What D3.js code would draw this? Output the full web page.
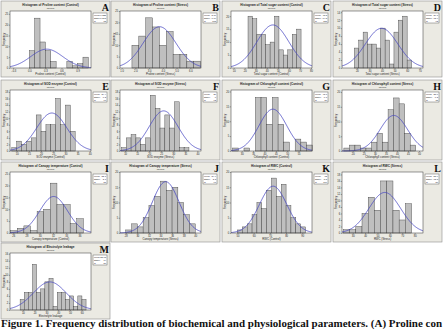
<!DOCTYPE html>
<html>
<head>
<meta charset="utf-8">
<script src="https://cdn.jsdelivr.net/npm/d3@7"></script>
<style>
  body { margin: 0; background: #fff; }
  svg { display: block; }
</style>
</head>
<body>
<svg id="fig" width="444" height="331"></svg>
<script>
// panel letters, titles and axis labels
var letters = ["A", "B", "C", "D", "E", "F", "G", "H", "I", "J", "K", "L", "M"];
var titles = [
  "Histogram of Proline content (Control)", "Histogram of Proline content (Stress)",
  "Histogram of Total sugar content (Control)", "Histogram of Total sugar content (Stress)",
  "Histogram of SOD enzyme (Control)", "Histogram of SOD enzyme (Stress)",
  "Histogram of Chlorophyll content (Control)", "Histogram of Chlorophyll content (Stress)",
  "Histogram of Canopy temperature (Control)", "Histogram of Canopy temperature (Stress)",
  "Histogram of RWC (Control)", "Histogram of RWC (Stress)",
  "Histogram of Electrolyte leakage"
];
var xLabels = [
  "Proline content (Control)", "Proline content (Stress)",
  "Total sugar content (Control)", "Total sugar content (Stress)",
  "SOD enzyme (Control)", "SOD enzyme (Stress)",
  "Chlorophyll content (Control)", "Chlorophyll content (Stress)",
  "Canopy temperature (Control)", "Canopy temperature (Stress)",
  "RWC (Control)", "RWC (Stress)",
  "Electrolyte leakage"
];

// histogram bins
var binStart = [0.0, 1.75, 23, 18, 8, 8.5, 26, 16, 25.6, 28, 50, 22.5, 7.7];
var binWidth = [0.1, 0.5, 4, 3.5, 2, 2, 2.5, 2.5, 1, 1, 3, 5, 3.5];
var counts = [
  [8, 23, 12, 8, 3, 0, 0, 3, 1, 2, 5],
  [10, 14, 22, 18, 10, 16, 6, 6, 3, 3],
  [20, 19, 13, 13, 9, 10, 20, 7, 5, 7, 13, 15],
  [5, 7, 9, 6, 6, 5, 10, 7, 1, 9, 12, 13, 2],
  [1, 3, 2, 3, 4, 11, 6, 8, 8, 16, 8, 14, 6],
  [1, 4, 5, 4, 2, 4, 17, 13, 7, 11, 7, 15, 1, 1],
  [1, 0, 1, 0, 18, 18, 9, 18, 9, 3, 0, 4, 3, 2],
  [1, 2, 2, 1, 1, 3, 6, 3, 14, 18, 16, 6, 2],
  [1, 2, 3, 1, 9, 10, 21, 12, 12, 4, 6],
  [1, 3, 2, 5, 9, 12, 17, 14, 15, 10, 6, 3],
  [1, 2, 3, 6, 10, 8, 14, 18, 12, 16, 9, 5, 3, 2],
  [1, 1, 2, 6, 11, 7, 16, 16, 7, 4, 9],
  [3, 5, 5, 13, 5, 6, 8, 9, 1, 5, 5, 3, 4, 1, 4, 3]
];

// fitted normal: mean and standard deviation
var means = [0.325, 3.76, 45.5, 39.7, 24.4, 26.0, 43.7, 38.6, 32.1, 34.9, 72.0, 55.9, 32.95];
var sds = [0.298, 1.19, 14.5, 12.9, 6.2, 6.0, 6.1, 6.2, 2.1, 2.3, 8.5, 12.8, 14.0];

// axes
var xDomains = [
  [-0.36, 1.15], [0.88, 6.78], [7.6, 80.9], [8.2, 72.6],
  [7.25, 40.5], [7.9, 41.5], [25.3, 60.9], [15.15, 51.8],
  [25.5, 37.75], [27, 41], [46, 96], [21.35, 86.75],
  [-0.9, 67.9]
];
var xTicks = [
  [-0.3, 0.0, 0.3, 0.6, 0.9], [1, 2, 3, 4, 5, 6], [10, 20, 30, 40, 50, 60, 70, 80], [20, 30, 40, 50, 60, 70],
  [10, 15, 20, 25, 30, 35, 40], [10, 15, 20, 25, 30, 35, 40], [30, 35, 40, 45, 50, 55], [20, 25, 30, 35, 40, 45, 50],
  [26, 28, 30, 32, 34, 36], [28, 30, 32, 34, 36, 38, 40], [50, 60, 70, 80, 90], [30, 40, 50, 60, 70, 80],
  [10, 20, 30, 40, 50, 60]
];
var yMax = [26.3, 25, 22, 14.3, 18.6, 18.6, 20.5, 20.7, 25.7, 20, 20, 18.75, 16.2];
var yTicks = [
  [0, 5, 10, 15, 20, 25], [0, 5, 10, 15, 20, 25], [0, 5, 10, 15, 20], [0, 2, 4, 6, 8, 10, 12, 14],
  [0, 2, 4, 6, 8, 10, 12, 14, 16, 18], [0, 2, 4, 6, 8, 10, 12, 14, 16, 18], [0, 5, 10, 15, 20], [0, 5, 10, 15, 20],
  [0, 5, 10, 15, 20, 25], [0, 5, 10, 15, 20], [0, 5, 10, 15, 20], [0, 2, 4, 6, 8, 10, 12, 14, 16, 18],
  [0, 2, 4, 6, 8, 10, 12, 14, 16]
];

var caption = "Figure 1. Frequency distribution of biochemical and physiological parameters. (A) Proline con";

var svg = d3.select("#fig");
var colX = [1, 111, 222, 333];
var rowY = [1, 80, 162, 243];
var rowH = [76, 80, 80, 76];
var sans = "Arial, 'Liberation Sans', sans-serif";

function pdf(v, m, s) {
  return Math.exp(-0.5 * Math.pow((v - m) / s, 2)) / (s * Math.sqrt(2 * Math.PI));
}

letters.forEach(function (L, i) {
  var x0 = colX[i % 4], y0 = rowY[Math.floor(i / 4)], h = rowH[Math.floor(i / 4)];
  var g = svg.append("g").attr("transform", "translate(" + x0 + "," + y0 + ")");

  var left = 9, right = 90, top = 10, bottom = h - 9;

  // panel background
  g.append("rect")
    .attr("width", 109).attr("height", h)
    .attr("fill", "#ebeae3")
    .attr("stroke", "#8e8e8e").attr("stroke-width", 0.6);

  var x = d3.scaleLinear().domain(xDomains[i]).range([left, right]);
  var y = d3.scaleLinear().domain([0, yMax[i]]).range([bottom, top]);

  g.append("rect")
    .attr("x", left).attr("y", top)
    .attr("width", right - left).attr("height", bottom - top)
    .attr("fill", "#fff");

  // bars
  var bw = x(binStart[i] + binWidth[i]) - x(binStart[i]);
  g.selectAll(".bar")
    .data(counts[i])
    .enter()
    .append("rect")
    .attr("x", function (d, j) { return x(binStart[i] + j * binWidth[i]); })
    .attr("y", function (d) { return y(d); })
    .attr("width", bw)
    .attr("height", function (d) { return y(0) - y(d); })
    .attr("fill", "#bfbfbf")
    .attr("stroke", "#3a3a3a")
    .attr("stroke-width", 0.4);

  // normal curve
  var n = d3.sum(counts[i]);
  var dom = xDomains[i];
  var pts = d3.range(0, 161).map(function (k) {
    var v = dom[0] + k * (dom[1] - dom[0]) / 160;
    return [v, n * binWidth[i] * pdf(v, means[i], sds[i])];
  });
  g.append("path")
    .datum(pts)
    .attr("fill", "none")
    .attr("stroke", "#4747c2")
    .attr("stroke-width", 0.8)
    .attr("d", d3.line()
      .x(function (d) { return x(d[0]); })
      .y(function (d) { return y(d[1]); }));

  // plot frame
  g.append("rect")
    .attr("x", left).attr("y", top)
    .attr("width", right - left).attr("height", bottom - top)
    .attr("fill", "none")
    .attr("stroke", "#333").attr("stroke-width", 0.5);

  // axes
  var xa = g.append("g").attr("transform", "translate(0," + bottom + ")")
    .call(d3.axisBottom(x).tickValues(xTicks[i]).tickSize(1.2).tickPadding(0.6));
  var ya = g.append("g").attr("transform", "translate(" + left + ",0)")
    .call(d3.axisLeft(y).tickValues(yTicks[i]).tickSize(1.2).tickPadding(0.6));
  [xa, ya].forEach(function (a) {
    a.select(".domain").remove();
    a.selectAll("line").attr("stroke", "#333").attr("stroke-width", 0.4);
    a.selectAll("text").style("font-family", sans).style("font-size", "2.6px").attr("fill", "#222");
  });

  // titles and labels
  g.append("text")
    .attr("x", (left + right) / 2).attr("y", 5.2)
    .attr("text-anchor", "middle")
    .style("font-family", sans).style("font-size", "3.1px").style("font-weight", "bold")
    .attr("fill", "#222")
    .text(titles[i]);
  g.append("text")
    .attr("x", (left + right) / 2).attr("y", 8.2)
    .attr("text-anchor", "middle")
    .style("font-family", sans).style("font-size", "2.4px")
    .attr("fill", "#333")
    .text("Normal");
  g.append("text")
    .attr("x", (left + right) / 2).attr("y", bottom + 6.6)
    .attr("text-anchor", "middle")
    .style("font-family", sans).style("font-size", "2.8px")
    .attr("fill", "#222")
    .text(xLabels[i]);
  g.append("text")
    .attr("transform", "translate(3.5," + ((top + bottom) / 2) + ") rotate(-90)")
    .attr("text-anchor", "middle")
    .style("font-family", sans).style("font-size", "2.8px")
    .attr("fill", "#222")
    .text("Frequency");

  // legend box
  var lg = g.append("g").attr("transform", "translate(92,12)");
  lg.append("rect").attr("width", 14).attr("height", 10)
    .attr("fill", "#fff").attr("stroke", "#444").attr("stroke-width", 0.4);
  var rows = [["Mean", means[i]], ["StDev", sds[i]], ["N", n]];
  rows.forEach(function (r, k) {
    lg.append("text").attr("x", 1).attr("y", 3 + k * 3)
      .style("font-family", sans).style("font-size", "2.3px").attr("fill", "#222")
      .text(r[0]);
    lg.append("text").attr("x", 13).attr("y", 3 + k * 3)
      .attr("text-anchor", "end")
      .style("font-family", sans).style("font-size", "2.3px").attr("fill", "#222")
      .text(r[1]);
  });

  // panel letter
  g.append("text")
    .attr("x", 108).attr("y", 9.5)
    .attr("text-anchor", "end")
    .style("font-family", "'Liberation Serif', 'Times New Roman', serif")
    .style("font-size", "10px").style("font-weight", "bold")
    .attr("fill", "#111")
    .text(L);
});

// caption
svg.append("text")
  .attr("x", 1).attr("y", 327)
  .attr("textLength", 441).attr("lengthAdjust", "spacingAndGlyphs")
  .style("font-family", "'Liberation Serif', 'Times New Roman', serif")
  .style("font-size", "11px").style("font-weight", "bold")
  .attr("fill", "#111")
  .text(caption);
</script>
</body>
</html>
